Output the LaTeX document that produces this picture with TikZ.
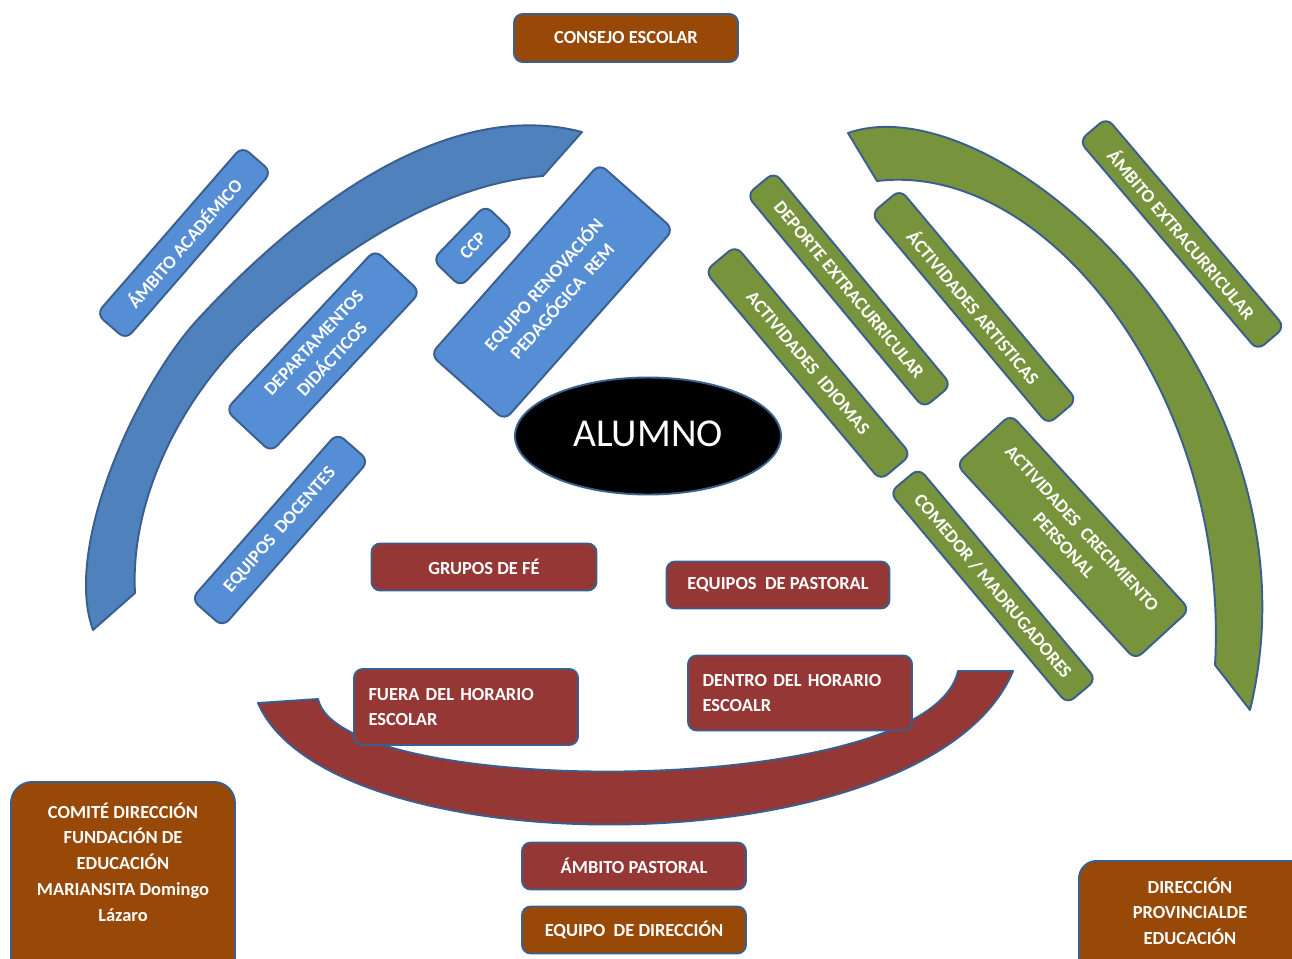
\documentclass[tikz,border=0pt]{standalone}
\usepackage{fontspec}
\setmainfont{Carlito}
\usetikzlibrary{shapes.geometric}
\definecolor{bordc}{HTML}{3A5F8F}
\definecolor{boxblue}{HTML}{558ED5}
\definecolor{arcblue}{HTML}{4F81BD}
\definecolor{grn}{HTML}{77933C}
\definecolor{rd}{HTML}{953735}
\definecolor{brn}{HTML}{984807}
\tikzset{
  bx/.style={draw=bordc, line width=1.1pt, rounded corners=5pt, text=white,
    font=\bfseries\fontsize{10.5}{14}\selectfont, inner sep=2pt, align=center},
  bluebox/.style={bx, fill=boxblue},
  greenbox/.style={bx, fill=grn},
  redbox/.style={bx, fill=rd},
  brownbox/.style={bx, fill=brn},
  crescent/.style={draw=bordc, line width=1.1pt, line join=round},
  plaintext/.style={text=white, font=\bfseries\fontsize{10.5}{14.7}\selectfont, align=center, inner sep=0pt}
}
\begin{document}
\begin{tikzpicture}[x=0.02cm,y=-0.02cm]
\useasboundingbox (0,0) rectangle (1292,958);
\clip (0,0) rectangle (1292,958);
\fill[white] (0,0) rectangle (1292,958);

% crescents
\draw[crescent, fill=arcblue] (582,132) .. controls (440,95) and (290,220) .. (200,317)
  .. controls (140,380) and (62,545) .. (93,630)
  -- (135,593) .. controls (130,500) and (180,400) .. (250,333)
  .. controls (320,266) and (430,185) .. (543,176) -- cycle;
\draw[crescent, fill=grn] (848,133) .. controls (1000,80) and (1330,380) .. (1250,710)
  -- (1215,665) .. controls (1230,400) and (1050,160) .. (877,181) -- cycle;
\draw[crescent, fill=rd] (258,703) .. controls (330,870) and (930,870) .. (1013,671)
  -- (958,671) .. controls (930,800) and (340,800) .. (318,699) -- cycle;

% blue boxes
\node[bluebox, rotate=49, minimum width=4.44cm, minimum height=0.78cm] (acad) at (184,243) {ÁMBITO ACADÉMICO};
\node[bluebox, rotate=47, minimum width=4.38cm, minimum height=1.24cm] (dept) at (323,351) {DEPARTAMENTOS\\DIDÁCTICOS};
\node[bluebox, rotate=46, minimum width=1.52cm, minimum height=0.78cm] (ccp) at (473,246) {CCP};
\node[bluebox, rotate=48.5, minimum width=5.1cm, minimum height=1.98cm] (rem) at (552,292) {EQUIPO RENOVACIÓN\\PEDAGÓGICA\ \ REM};
\node[bluebox, rotate=48.7, minimum width=4.42cm, minimum height=0.84cm] (docentes) at (280,530) {EQUIPOS\ \ DOCENTES};

% green boxes
\node[greenbox, rotate=-49.6, minimum width=5.5cm, minimum height=0.72cm] (ambextra) at (1182,234) {ÁMBITO EXTRACURRICULAR};
\node[greenbox, rotate=-50.3, minimum width=5.54cm, minimum height=0.72cm] (deporte) at (849,290) {DEPORTE EXTRACURRICULAR};
\node[greenbox, rotate=-50, minimum width=5.5cm, minimum height=0.76cm] (artisticas) at (974,307) {ÁCTIVIDADES ARTISTICAS};
\node[greenbox, rotate=-50, minimum width=5.46cm, minimum height=0.8cm] (idiomas) at (808,363) {ACTIVIDADES\ \ IDIOMAS};
\node[greenbox, rotate=-47.5, minimum width=5.3cm, minimum height=1.48cm] (crecimiento) at (1073,537) {ACTIVIDADES\ \ CRECIMIENTO\\PERSONAL};
\node[greenbox, rotate=-50, minimum width=5.52cm, minimum height=0.76cm] (comedor) at (993,586) {COMEDOR / MADRUGADORES};

% red boxes
\node[redbox, minimum width=4.5cm, minimum height=0.94cm] (grupos) at (484,567) {GRUPOS DE FÉ};
\node[redbox, minimum width=4.46cm, minimum height=0.94cm] (eqpast) at (778,585) {EQUIPOS\ \ DE PASTORAL};
\node[redbox, minimum width=4.48cm, minimum height=1.52cm, text width=3.9cm, align=left] (fuera) at (466,707) {FUERA DEL HORARIO\\ESCOLAR};
\node[redbox, minimum width=4.48cm, minimum height=1.5cm, text width=3.9cm, align=left] (dentro) at (800,693) {DENTRO DEL HORARIO\\ESCOALR};
\node[redbox, minimum width=4.48cm, minimum height=0.94cm] (ambpast) at (634,866) {ÁMBITO PASTORAL};

% brown boxes
\node[brownbox, minimum width=4.48cm, minimum height=0.94cm] (eqdir) at (634,930) {EQUIPO\ \ DE DIRECCIÓN};
\node[brownbox, minimum width=4.48cm, minimum height=0.96cm] (consejo) at (626,38) {CONSEJO ESCOLAR};
\node[brownbox, rounded corners=12pt, anchor=north, minimum width=4.48cm, minimum height=4.4cm] (comite) at (123,781) {};
\node[plaintext] (comitetext) at (123,862) {COMITÉ DIRECCIÓN\\FUNDACIÓN DE\\EDUCACIÓN\\MARIANSITA Domingo\\Lázaro};
\node[brownbox, rounded corners=10pt, anchor=north west, minimum width=4.8cm, minimum height=3cm] (dirprov) at (1078,860) {};
\node[plaintext, font=\bfseries\fontsize{10.5}{14.5}\selectfont] (dirprovtext) at (1190,911) {DIRECCIÓN\\PROVINCIALDE\\EDUCACIÓN};

% central ellipse
\node[ellipse, fill=black, draw=bordc, line width=1.1pt, minimum width=5.32cm, minimum height=2.34cm,
  text=white, font=\fontsize{22.5}{26}\selectfont, inner sep=0pt] (alumno) at (648,436) {\raisebox{3pt}{ALUMNO}};
\end{tikzpicture}
\end{document}
